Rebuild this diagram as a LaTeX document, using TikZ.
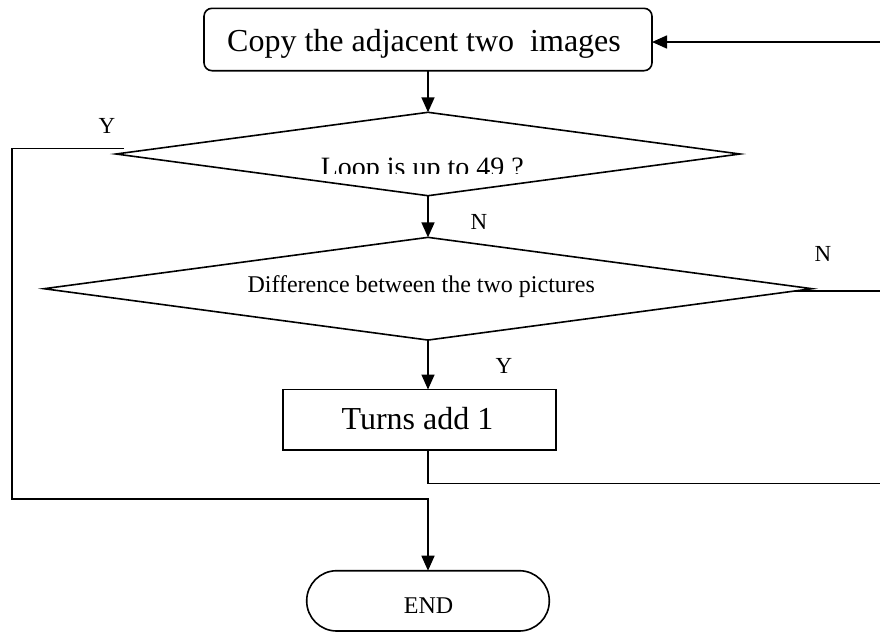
\documentclass[tikz,border=0pt]{standalone}
\usepackage{fontspec}
\setmainfont{Liberation Serif}
\usetikzlibrary{arrows.meta,shapes.geometric}
\begin{document}
\begin{tikzpicture}[x=1pt,y=-1pt,
  line width=1.6pt,
  big/.style={font=\fontsize{32}{38}\selectfont},
  small/.style={font=\fontsize{23}{28}\selectfont},
  arr/.style={-{Triangle[length=15pt,width=13pt]}},
  dia/.style={draw,diamond,inner sep=0pt,outer sep=0pt},
  boxn/.style={draw,inner sep=0pt,outer sep=0pt},
  txt/.style={anchor=base,inner sep=0pt}]
\useasboundingbox (0,0) rectangle (880,633);
% shapes
\node[boxn,rounded corners=8pt,minimum width=448pt,minimum height=62.4pt] (copy) at (428,39.5) {};
\node[txt,big] (copyt) at (424,51.7) {Copy the adjacent two\ \ images};
\node[dia,minimum width=624pt,minimum height=83.4pt] (d1) at (428,154) {};
\begin{scope}
  \clip (200,140) rectangle (640,173.3);
  \node[txt,anchor=base west,font=\fontsize{28}{34}\selectfont] (loopt) at (320,176.5) {Loop is up to 49 ?};
\end{scope}
\node[dia,minimum width=768pt,minimum height=102.7pt] (d2) at (428,288.7) {};
\node[txt,anchor=base west,font=\fontsize{24}{29}\selectfont] (difft) at (246.7,292) {Difference between the two pictures};
\node[boxn,minimum width=273.3pt,minimum height=60.5pt] (turns) at (419.35,419.75) {};
\node[txt,big] (turnst) at (417.5,429.7) {Turns add 1};
\node[boxn,rounded corners=30pt,minimum width=242.6pt,minimum height=60.3pt] (end) at (428,600.85) {};
\node[txt,font=\fontsize{24}{29}\selectfont] (endt) at (428.5,613.3) {END};
% labels
\node[txt,small] (ly1) at (107,133.3) {Y};
\node[txt,small] (ln1) at (479,229.3) {N};
\node[txt,small] (ln2) at (823,261.5) {N};
\node[txt,small] (ly2) at (504,373.3) {Y};
% connectors
\draw[arr] (copy.south) -- (d1.north);
\draw[arr] (d1.south) -- (d2.north);
\draw[arr] (d2.south) -- (d2.south |- turns.north);
\coordinate (fbin) at (880,42);
\draw[arr] (fbin) -- (copy.east |- fbin);
\coordinate (ystart) at (124,148.3);
\coordinate (ybot) at (12,499);
\draw[arr] (ystart) -| (ybot) -| (end.north);
\coordinate (nstart) at (795,291);
\coordinate (nout) at (880,291);
\draw (nstart) -- (nout);
\coordinate (tout) at (880,483.3);
\draw (d2.south |- turns.south) |- (tout);
\end{tikzpicture}
\end{document}
